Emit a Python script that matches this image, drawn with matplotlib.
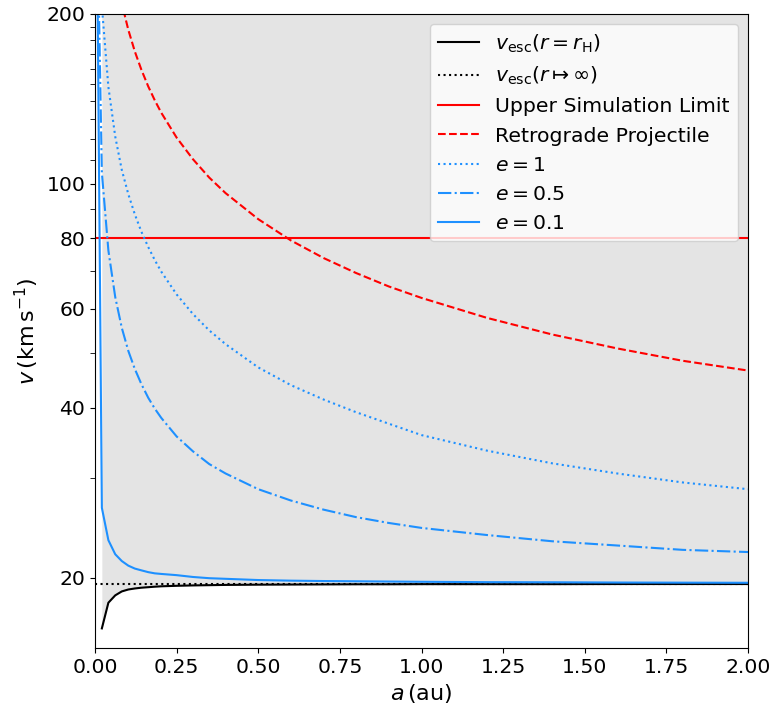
import numpy as np
import matplotlib
matplotlib.use("Agg")
import matplotlib.pyplot as plt
from matplotlib.ticker import ScalarFormatter, NullFormatter

# semi-major axis grid (au)
a = [0.001, 0.021, 0.041, 0.062, 0.082, 0.102, 0.122, 0.142, 0.163, 0.183,
     0.203, 0.25, 0.3, 0.35, 0.4, 0.5, 0.6, 0.7, 0.8, 0.9,
     1.0, 1.2, 1.4, 1.6, 1.8, 2.0]

# escape speed at the Hill radius (km/s)
v_esc_rH = [np.nan, 16.25, 18.05, 18.6, 18.9, 19.05, 19.13, 19.19, 19.23, 19.27,
            19.3, 19.34, 19.37, 19.39, 19.41, 19.43, 19.44, 19.45, 19.46, 19.46,
            19.47, 19.47, 19.47, 19.48, 19.48, 19.48]
v_esc_inf = 19.5
v_upper = 80.0

v_retro = [1883, 411, 294.8, 240, 208.9, 187.5, 171.6, 159.3, 148.8, 140.6,
           133.6, 120.7, 110.5, 102.5, 96.2, 86.5, 79.3, 73.8, 69.4, 65.7,
           62.7, 57.8, 54.0, 51.0, 48.5, 46.6]
v_e1 = [942, 206.4, 148.4, 121.2, 105.8, 95.8, 88.2, 82.2, 77.2, 73.2,
        69.8, 63.6, 58.7, 54.9, 51.9, 47.2, 43.9, 41.4, 39.3, 37.5,
        35.8, 33.6, 31.9, 30.6, 29.5, 28.7]
v_e05 = [471, 104.6, 76.1, 62.9, 55.5, 50.5, 46.9, 44.1, 41.7, 39.9,
         38.4, 35.6, 33.5, 31.8, 30.6, 28.7, 27.4, 26.4, 25.6, 25.0,
         24.5, 23.8, 23.2, 22.8, 22.4, 22.2]
v_e01 = [640, 26.6, 23.3, 22.0, 21.4, 21.0, 20.75, 20.6, 20.45, 20.35,
         20.3, 20.2, 20.05, 19.95, 19.9, 19.8, 19.75, 19.72, 19.7, 19.68,
         19.66, 19.63, 19.62, 19.6, 19.59, 19.58]

yticks = [20, 40, 60, 80, 100, 200]
yminor = [30, 50, 70, 90, 110, 120, 130, 140, 150, 160, 170, 180, 190]

plt.rcParams['font.size'] = 14.7
plt.rcParams['mathtext.fontset'] = 'dejavusans'

fig = plt.figure(figsize=(7.72, 7.11), dpi=100)
ax = fig.add_axes([95 / 772, 63 / 711, 653 / 772, 634 / 711])

ax.set_yscale('log')
ax.set_xlim(0, 2)
ax.set_ylim(15, 200)

ax.fill_between(a, v_esc_rH, ax.get_ylim()[1], color='#e4e4e4', lw=0)

lw = 1.5
ax.plot(a, v_esc_rH, color='k', lw=lw, label=r'$v_{\mathrm{esc}}(r=r_{\mathrm{H}})$')
ax.axhline(v_esc_inf, color='k', ls=':', lw=lw, label=r'$v_{\mathrm{esc}}(r\mapsto\infty)$')
ax.axhline(v_upper, color='red', lw=lw, label='Upper Simulation Limit')
ax.plot(a, v_retro, color='red', ls='--', lw=lw, label='Retrograde Projectile')
ax.plot(a, v_e1, color='dodgerblue', ls=':', lw=lw, label=r'$e=1$')
ax.plot(a, v_e05, color='dodgerblue', ls='-.', lw=lw, label=r'$e=0.5$')
ax.plot(a, v_e01, color='dodgerblue', ls='-', lw=lw, label=r'$e=0.1$')

ax.set_yticks(yticks)
ax.set_yticks(yminor, minor=True)
ax.yaxis.set_major_formatter(ScalarFormatter())
ax.yaxis.set_minor_formatter(NullFormatter())
ax.tick_params(which='minor', length=3.5)

ax.set_xlabel(r'$a\,(\mathrm{au})$', fontsize=16)
ax.set_ylabel(r'$v\,(\mathrm{km\,s^{-1}})$', fontsize=16)
ax.legend(loc='upper right', fontsize=14.7)

fig.savefig('out.png', dpi=100)
